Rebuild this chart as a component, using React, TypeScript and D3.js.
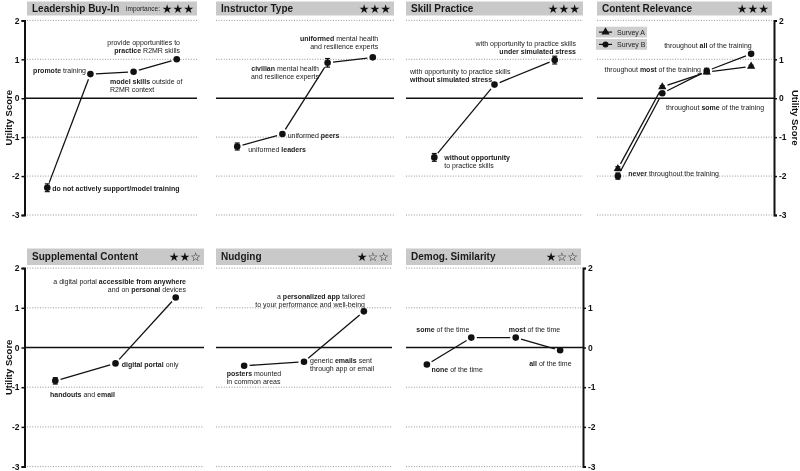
import React, { useEffect, useRef } from "react";
import * as d3 from "d3";

const W = 800;
const H = 471;

// ---------- data ----------
const panelTitles = [
  "Leadership Buy-In",
  "Instructor Type",
  "Skill Practice",
  "Content Relevance",
  "Supplemental Content",
  "Nudging",
  "Demog. Similarity",
];
const panelImportance = [3, 3, 3, 3, 2, 1, 1];
const yTicks = [2, 1, 0, -1, -2, -3];

const leadershipLevels = [
  "**do not actively support/model training**",
  "**promote** training",
  "**model skills** outside of\nR2MR context",
  "provide opportunities to\n**practice** R2MR skills",
];
const leadershipScores = [-2.3, 0.62, 0.68, 1.0];
const leadershipErr = [0.1, 0.03, 0.03, 0.03];

const instructorLevels = [
  "uniformed **leaders**",
  "uniformed **peers**",
  "**civilian** mental health\nand resilience experts",
  "**uniformed** mental health\nand resilience experts",
];
const instructorScores = [-1.24, -0.92, 0.91, 1.05];
const instructorErr = [0.09, 0.03, 0.11, 0.03];

const skillLevels = [
  "**without opportunity**\nto practice skills",
  "with opportunity to practice skills\n**without simulated stress**",
  "with opportunity to practice skills\n**under simulated stress**",
];
const skillScores = [-1.52, 0.35, 0.98];
const skillErr = [0.1, 0.03, 0.1];

const relevanceLevels = [
  "**never** throughout the training",
  "throughout **some** of the training",
  "throughout **most** of the training",
  "throughout **all** of the training",
];
const relevanceScoresA = [-1.81, 0.29, 0.67, 0.82];
const relevanceErrA = [0.05, 0.03, 0.03, 0.03];
const relevanceScoresB = [-2.0, 0.13, 0.7, 1.14];
const relevanceErrB = [0.08, 0.04, 0.07, 0.03];
const surveyNames = ["Survey A", "Survey B"];

const supplementalLevels = [
  "**handouts** and **email**",
  "**digital portal** only",
  "a digital portal **accessible from anywhere**\nand on **personal** devices",
];
const supplementalScores = [-0.84, -0.4, 1.26];
const supplementalErr = [0.08, 0.03, 0.03];

const nudgingLevels = [
  "**posters** mounted\nin common areas",
  "generic **emails** sent\nthrough app or email",
  "a **personalized app** tailored\nto your performance and well-being",
];
const nudgingScores = [-0.46, -0.36, 0.91];
const nudgingErr = [0.03, 0.03, 0.03];

const demogLevels = [
  "**none** of the time",
  "**some** of the time",
  "**most** of the time",
  "**all** of the time",
];
const demogScores = [-0.43, 0.25, 0.25, -0.07];
const demogErr = [0.03, 0.03, 0.03, 0.03];

// ---------- layout (positions / styles) ----------
type Anchor = "start" | "end" | "middle";
type LabelPos = [number, number, Anchor];

const rows = [
  { yRange: [215, 20.4], headTop: 1.5, headBottom: 15.5 },
  { yRange: [466.6, 268.1], headTop: 248.5, headBottom: 265 },
];

const panelLayout = [
  { row: 0, x0: 27, x1: 197, axis: "left", axisTitle: true },
  { row: 0, x0: 216, x1: 394, axis: "none", axisTitle: false },
  { row: 0, x0: 406, x1: 583, axis: "none", axisTitle: false },
  { row: 0, x0: 597, x1: 772, axis: "right", axisTitle: true },
  { row: 1, x0: 27, x1: 204, axis: "left", axisTitle: true },
  { row: 1, x0: 216, x1: 392, axis: "none", axisTitle: false },
  { row: 1, x0: 406, x1: 581, axis: "right", axisTitle: false },
];

const labelOffsets: LabelPos[][] = [
  [[5, 0, "start"], [-4.4, -4, "end"], [-23.6, 9.2, "start"], [3.3, -17, "end"]],
  [[11, 2.6, "start"], [5.3, 0.7, "start"], [-8.6, 4.9, "end"], [5.5, -19.4, "end"]],
  [[10, -0.6, "start"], [-84.5, -13.6, "start"], [21.3, -17.4, "end"]],
  [[10.4, -2.7, "start"], [3.7, 14.2, "start"], [-5.7, -1.7, "end"], [0.6, -8.9, "end"]],
  [[-5.3, 13.4, "start"], [6.2, 0.9, "start"], [10.3, -16.8, "end"]],
  [[-17.4, 6.9, "start"], [6, -1.8, "start"], [1.1, -15.4, "end"]],
  [[4.6, 4.4, "start"], [-2, -8.6, "end"], [-6.9, -8.6, "start"], [11.5, 12.4, "end"]],
];

type Series = { scores: number[]; err: number[]; marker: "circle" | "triangle" };
const panelData: { levels: string[]; series: Series[] }[] = [
  { levels: leadershipLevels, series: [{ scores: leadershipScores, err: leadershipErr, marker: "circle" }] },
  { levels: instructorLevels, series: [{ scores: instructorScores, err: instructorErr, marker: "circle" }] },
  { levels: skillLevels, series: [{ scores: skillScores, err: skillErr, marker: "circle" }] },
  {
    levels: relevanceLevels,
    series: [
      { scores: relevanceScoresA, err: relevanceErrA, marker: "triangle" },
      { scores: relevanceScoresB, err: relevanceErrB, marker: "circle" },
    ],
  },
  { levels: supplementalLevels, series: [{ scores: supplementalScores, err: supplementalErr, marker: "circle" }] },
  { levels: nudgingLevels, series: [{ scores: nudgingScores, err: nudgingErr, marker: "circle" }] },
  { levels: demogLevels, series: [{ scores: demogScores, err: demogErr, marker: "circle" }] },
];

const FONT = "'Liberation Sans', Arial, Helvetica, sans-serif";
const LINE_H = 8;
const GAP = 5.5;

function RichLine({ text, x, y, anchor }: { text: string; x: number; y: number; anchor: Anchor }) {
  const parts = text.split("**");
  return (
    <text x={x} y={y} textAnchor={anchor} dominantBaseline="central" fontSize={7} fill="#1a1a1a" fontFamily={FONT}>
      {parts.map((p, i) => (
        <tspan key={i} fontWeight={i % 2 === 1 ? "bold" : "normal"}>
          {p}
        </tspan>
      ))}
    </text>
  );
}

function Axis({ scale, side, x }: { scale: d3.ScaleLinear<number, number>; side: string; x: number }) {
  const ref = useRef<SVGGElement>(null);
  useEffect(() => {
    if (!ref.current) return;
    const g = d3.select(ref.current);
    g.selectAll("*").remove();
    const ax = (side === "left" ? d3.axisLeft(scale) : d3.axisRight(scale))
      .tickValues(yTicks)
      .tickSize(3)
      .tickSizeOuter(3)
      .tickPadding(2)
      .tickFormat((d) => String(d));
    g.call(ax as any);
    g.select(".domain").attr("stroke", "#111").attr("stroke-width", 2);
    g.selectAll(".tick line").attr("stroke", "#111").attr("stroke-width", 1.5);
    g.selectAll(".tick text")
      .attr("font-family", FONT)
      .attr("font-size", 8.5)
      .attr("font-weight", "bold")
      .attr("fill", "#111");
  }, [scale, side]);
  return <g ref={ref} transform={`translate(${x},0)`} />;
}

function Panel({ idx }: { idx: number }) {
  const lay = panelLayout[idx];
  const row = rows[lay.row];
  const data = panelData[idx];
  const y = d3.scaleLinear().domain([-3, 2]).range(row.yRange as [number, number]);
  const x = d3
    .scalePoint<number>()
    .domain(data.levels.map((_, i) => i))
    .range([lay.x0, lay.x1])
    .padding(0.47);
  const stars = "★".repeat(panelImportance[idx]) + "☆".repeat(3 - panelImportance[idx]);
  const tri = d3.symbol().type(d3.symbolTriangle).size(30)();
  const labelSeries = data.series[data.series.length - 1];

  return (
    <g>
      {/* header */}
      <rect x={lay.x0} y={row.headTop} width={lay.x1 - lay.x0} height={row.headBottom - row.headTop} fill="#c9c9c9" />
      <text
        x={lay.x0 + 5}
        y={(row.headTop + row.headBottom) / 2}
        dominantBaseline="central"
        fontFamily={FONT}
        fontWeight="bold"
        fontSize={10}
        fill="#1a1a1a"
      >
        {panelTitles[idx]}
      </text>
      <text
        x={lay.x1 - 3}
        y={(row.headTop + row.headBottom) / 2 + 0.5}
        dominantBaseline="central"
        textAnchor="end"
        fontFamily="'DejaVu Sans', sans-serif"
        fontSize={12}
        fill="#111"
      >
        {stars}
      </text>
      {idx === 0 && (
        <text
          x={lay.x1 - 37}
          y={(row.headTop + row.headBottom) / 2}
          dominantBaseline="central"
          textAnchor="end"
          fontFamily={FONT}
          fontSize={6.5}
          fill="#222"
        >
          importance:
        </text>
      )}
      {/* grid */}
      {yTicks
        .filter((t) => t !== 0)
        .map((t) => (
          <line
            key={t}
            x1={lay.x0}
            x2={lay.x1}
            y1={y(t)}
            y2={y(t)}
            stroke="#8a8a8a"
            strokeWidth={0.9}
            strokeDasharray="1,1.6"
          />
        ))}
      <line
        x1={lay.axis === "left" ? lay.x0 - 2.5 : lay.x0}
        x2={lay.axis === "right" ? lay.x1 + 2 : lay.x1}
        y1={y(0)}
        y2={y(0)}
        stroke="#111"
        strokeWidth={1.4}
      />
      {lay.axis === "left" && <Axis scale={y} side="left" x={lay.x0 - 2.5} />}
      {lay.axis === "right" && <Axis scale={y} side="right" x={lay.x1 + 2} />}
      {lay.axisTitle && (
        <text
          transform={`translate(${lay.axis === "left" ? 8 : 795},${(row.yRange[0] + row.yRange[1]) / 2}) rotate(${
            lay.axis === "left" ? -90 : 90
          })`}
          textAnchor="middle"
          dominantBaseline="central"
          fontFamily={FONT}
          fontWeight="bold"
          fontSize={9.5}
          fill="#111"
        >
          Utility Score
        </text>
      )}
      {/* series */}
      {data.series.map((s, si) => {
        const pts = s.scores.map((v, i) => [x(i) as number, y(v)]);
        return (
          <g key={si}>
            {pts.slice(1).map((q, i) => {
              const p = pts[i];
              const dx = q[0] - p[0];
              const dy = q[1] - p[1];
              const len = Math.hypot(dx, dy);
              const ux = dx / len;
              const uy = dy / len;
              return (
                <line
                  key={i}
                  x1={p[0] + ux * GAP}
                  y1={p[1] + uy * GAP}
                  x2={q[0] - ux * GAP}
                  y2={q[1] - uy * GAP}
                  stroke="#111"
                  strokeWidth={1.3}
                />
              );
            })}
            {pts.map((p, i) => (
              <g key={"e" + i} stroke="#111" strokeWidth={1.2}>
                <line x1={p[0]} x2={p[0]} y1={y(s.scores[i] - s.err[i])} y2={y(s.scores[i] + s.err[i])} />
                <line x1={p[0] - 2.5} x2={p[0] + 2.5} y1={y(s.scores[i] - s.err[i])} y2={y(s.scores[i] - s.err[i])} />
                <line x1={p[0] - 2.5} x2={p[0] + 2.5} y1={y(s.scores[i] + s.err[i])} y2={y(s.scores[i] + s.err[i])} />
              </g>
            ))}
            {pts.map((p, i) =>
              s.marker === "circle" ? (
                <circle key={"m" + i} cx={p[0]} cy={p[1]} r={3.3} fill="#111" />
              ) : (
                <path key={"m" + i} d={tri as string} transform={`translate(${p[0]},${p[1]})`} fill="#111" />
              )
            )}
          </g>
        );
      })}
      {/* labels */}
      {data.levels.map((lbl, i) => {
        const [ox, oy, anchor] = labelOffsets[idx][i];
        const px = x(i) as number;
        const py = y(labelSeries.scores[i]);
        return (
          <g key={"l" + i}>
            {lbl.split("\n").map((line, li) => (
              <RichLine key={li} text={line} x={px + ox} y={py + oy + li * LINE_H} anchor={anchor} />
            ))}
          </g>
        );
      })}
      {/* legend */}
      {data.series.length > 1 &&
        surveyNames.map((name, si) => {
          const top = 26.7 + si * 12.3;
          return (
            <g key={name}>
              <rect x={lay.x0 - 1} y={top} width={51} height={10.8} fill="#cfcfcf" />
              <line x1={lay.x0 + 2} x2={lay.x0 + 15} y1={top + 5.4} y2={top + 5.4} stroke="#111" strokeWidth={1.2} />
              {data.series[si].marker === "circle" ? (
                <circle cx={lay.x0 + 8.5} cy={top + 5.4} r={3} fill="#111" />
              ) : (
                <path d={tri as string} transform={`translate(${lay.x0 + 8.5},${top + 5.4})`} fill="#111" />
              )}
              <text
                x={lay.x0 + 20}
                y={top + 5.6}
                dominantBaseline="central"
                fontFamily={FONT}
                fontSize={7}
                fill="#222"
              >
                {name}
              </text>
            </g>
          );
        })}
    </g>
  );
}

export default function App() {
  return (
    <svg
      width={W}
      height={H}
      viewBox={`0 0 ${W} ${H}`}
      style={{ position: "absolute", left: 0, top: 0, background: "#fff", filter: "grayscale(1)" }}
    >
      <rect width={W} height={H} fill="#fff" />
      {panelTitles.map((_, i) => (
        <Panel key={i} idx={i} />
      ))}
    </svg>
  );
}
